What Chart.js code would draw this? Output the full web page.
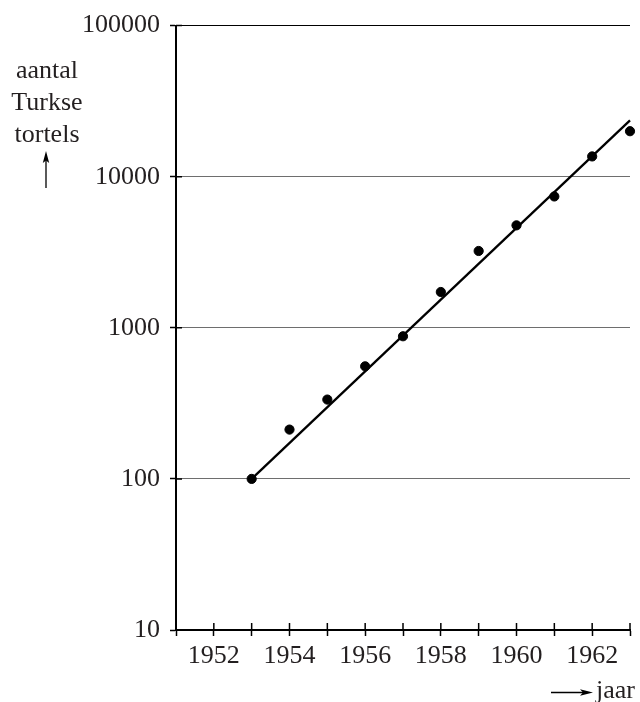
<!DOCTYPE html>
<html>
<head>
<meta charset="utf-8">
<script src="https://cdn.jsdelivr.net/npm/chart.js@4"></script>
<style>
  html, body { margin: 0; padding: 0; background: #fff; }
  #wrap { width: 640px; height: 702px; position: relative; }
</style>
</head>
<body>
<div id="wrap"><canvas id="c" width="640" height="702"></canvas></div>
<script>
// ---- data ----
const years = [1953, 1954, 1955, 1956, 1957, 1958, 1959, 1960, 1961, 1962, 1963];
const counts = [100, 212, 335, 556, 879, 1726, 3224, 4764, 7400, 13620, 20000];
const trendYears = [1953, 1963];
const trendValues = [100, 23600];
const yTickValues = [10, 100, 1000, 10000, 100000];
const xMin = 1951, xMax = 1963;
const yLabelLines = ['aantal', 'Turkse', 'tortels'];
const xLabelText = 'jaar';

const FONT = '"Liberation Serif", "Times New Roman", serif';
const TEXT = '#231f20';

const points = years.map((x, i) => ({ x, y: counts[i] }));
const trend = trendYears.map((x, i) => ({ x, y: trendValues[i] }));

const extras = {
  id: 'extras',
  afterDraw(chart) {
    const ctx = chart.ctx;
    const xs = chart.scales.x, ys = chart.scales.y;
    const area = chart.chartArea;
    ctx.save();
    // inner halves of tick marks (crossing the axes)
    ctx.strokeStyle = '#000';
    ctx.lineWidth = 1.5;
    ctx.beginPath();
    ys.ticks.forEach(t => {
      const p = ys.getPixelForValue(t.value);
      ctx.moveTo(area.left, p); ctx.lineTo(area.left + 6, p);
    });
    xs.ticks.forEach(t => {
      const p = xs.getPixelForValue(t.value);
      ctx.moveTo(p, area.bottom); ctx.lineTo(p, area.bottom - 7);
    });
    ctx.stroke();

    // y label text
    ctx.fillStyle = TEXT;
    ctx.font = '26px ' + FONT;
    ctx.textAlign = 'center';
    ctx.textBaseline = 'alphabetic';
    yLabelLines.forEach((s, i) => ctx.fillText(s, 47, 78 + i * 32));
    // up arrow
    ctx.strokeStyle = '#000';
    ctx.lineWidth = 1.3;
    ctx.beginPath(); ctx.moveTo(46, 188); ctx.lineTo(46, 160); ctx.stroke();
    ctx.fillStyle = '#000';
    ctx.beginPath(); ctx.moveTo(46, 151); ctx.lineTo(42.8, 163); ctx.lineTo(46, 160.5); ctx.lineTo(49.2, 163); ctx.closePath(); ctx.fill();

    // x label
    ctx.fillStyle = TEXT;
    ctx.textAlign = 'left';
    ctx.fillText(xLabelText, 596, 698);
    ctx.strokeStyle = '#000';
    ctx.beginPath(); ctx.moveTo(551, 692.5); ctx.lineTo(584, 692.5); ctx.stroke();
    ctx.fillStyle = '#000';
    ctx.beginPath(); ctx.moveTo(593, 692.5); ctx.lineTo(580, 689.3); ctx.lineTo(583, 692.5); ctx.lineTo(580, 695.7); ctx.closePath(); ctx.fill();
    ctx.restore();
  }
};

new Chart(document.getElementById('c'), {
  type: 'scatter',
  data: {
    datasets: [
      {
        data: trend,
        showLine: true,
        borderColor: '#000',
        borderWidth: 2.3,
        pointRadius: 0,
        clip: false,
        order: 2
      },
      {
        data: points,
        backgroundColor: '#000',
        borderColor: '#000',
        pointRadius: 4.6,
        pointHoverRadius: 4.6,
        clip: false,
        order: 1
      }
    ]
  },
  options: {
    responsive: false,
    devicePixelRatio: 1,
    animation: false,
    events: [],
    layout: { padding: { top: 25, right: 10, left: 0, bottom: 0 } },
    plugins: { legend: { display: false }, tooltip: { enabled: false }, title: { display: false } },
    scales: {
      x: {
        type: 'linear',
        min: xMin, max: xMax,
        afterBuildTicks(s) {
          const t = [];
          for (let v = xMin; v <= xMax; v++) t.push({ value: v });
          s.ticks = t;
        },
        afterFit(s) { s.height = 72; },
        ticks: {
          autoSkip: false,
          maxRotation: 0,
          padding: 5,
          color: TEXT,
          font: { family: FONT, size: 26 },
          callback: v => (v % 2 === 0 ? String(v) : '')
        },
        grid: { drawOnChartArea: false, drawTicks: true, tickLength: 6, tickColor: '#000', tickWidth: 1.5 },
        border: { display: true, color: '#000', width: 2 }
      },
      y: {
        type: 'logarithmic',
        min: yTickValues[0], max: yTickValues[yTickValues.length - 1],
        afterBuildTicks(s) { s.ticks = yTickValues.map(v => ({ value: v })); },
        afterFit(s) { s.width = 176; },
        ticks: {
          autoSkip: false,
          padding: 10,
          color: TEXT,
          font: { family: FONT, size: 26 },
          callback: v => String(v)
        },
        grid: {
          drawTicks: true,
          tickLength: 6,
          tickColor: '#000',
          tickWidth: 1.5,
          lineWidth: 1,
          color: ctx => (ctx.tick && ctx.tick.value === 100000 ? '#000' : '#6e6e6e')
        },
        border: { display: true, color: '#000', width: 2 }
      }
    }
  },
  plugins: [extras]
});
</script>
</body>
</html>
